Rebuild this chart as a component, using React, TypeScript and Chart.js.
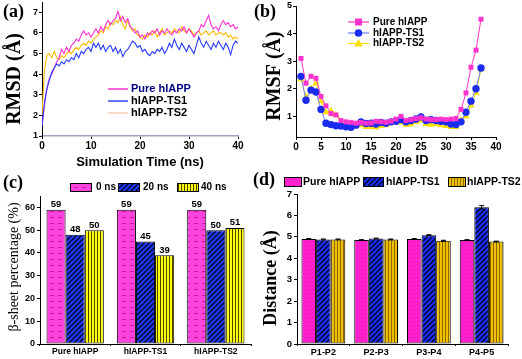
import React, { useEffect, useRef } from 'react';
import { Chart, registerables } from 'chart.js';

Chart.register(...registerables);

const SANS = '"Liberation Sans", Arial, sans-serif';
const SERIF = '"Liberation Serif", "Times New Roman", serif';

// ---------- (a) RMSD vs time ----------
const timeNs = [
  0, 0.5, 1, 1.5, 2, 2.5, 3, 3.5, 4, 4.5, 5, 5.5, 6, 6.5, 7, 7.5, 8, 8.5, 9, 9.5,
  10, 10.5, 11, 11.5, 12, 12.5, 13, 13.5, 14, 14.5, 15, 15.5, 16, 16.5, 17, 17.5, 18, 18.5, 19, 19.5,
  20, 20.5, 21, 21.5, 22, 22.5, 23, 23.5, 24, 24.5, 25, 25.5, 26, 26.5, 27, 27.5, 28, 28.5, 29, 29.5,
  30, 30.5, 31, 31.5, 32, 32.5, 33, 33.5, 34, 34.5, 35, 35.5, 36, 36.5, 37, 37.5, 38, 38.5, 39, 39.5, 40,
];
const rmsdPure = [
  1.5, 2.5, 3.3, 3.8, 4.0, 4.3, 4.6, 4.8, 5.2, 5.0,
  5.3, 5.1, 5.4, 5.5, 5.7, 5.6, 5.9, 6.1, 5.9, 6.0,
  5.8, 6.0, 6.2, 6.0, 6.3, 6.1, 6.4, 6.6, 6.4, 6.6,
  6.7, 7.05, 6.6, 6.8, 6.5, 6.7, 6.3, 6.2, 6.0, 6.1,
  5.8, 5.9, 5.7, 6.0, 5.9, 6.1, 6.0, 6.2, 5.9, 6.1,
  6.0, 6.2, 6.0, 5.9, 6.1, 6.0, 6.2, 6.1, 6.3, 6.0,
  6.2, 6.0, 5.8, 6.0, 6.1, 6.4, 6.3, 6.6, 6.85, 6.4,
  6.2, 6.3, 6.1, 6.4, 6.6, 6.4, 6.5, 6.3, 6.4, 6.2, 6.3,
];
const rmsdTS1 = [
  1.5, 2.6, 3.3, 3.7, 4.1, 4.3, 4.5, 4.4, 4.6, 4.5,
  4.7, 4.6, 4.8, 4.7, 5.0, 4.8, 5.1, 5.0, 5.2, 5.3,
  5.1, 5.5, 5.3, 5.5, 5.2, 5.4, 5.1, 5.3, 5.4, 5.1,
  5.3, 5.0, 5.2, 4.85, 5.1, 5.2, 5.4, 5.6, 5.5, 5.3,
  5.4, 5.1, 5.2, 5.0, 4.9, 5.1, 5.0, 5.2, 5.1, 5.3,
  5.0, 5.2, 5.5, 5.3, 5.7, 5.4, 5.2, 5.5, 5.3, 5.1,
  5.4, 5.2, 5.0, 5.4, 5.8, 5.5, 5.3, 5.6, 5.4, 5.2,
  5.5, 5.3, 5.6, 5.4, 5.2, 5.5, 5.3, 4.95, 5.4, 5.6, 5.5,
];
const rmsdTS2 = [
  2.0, 4.2, 4.9, 5.0, 4.8, 5.1, 4.8, 4.7, 4.9, 4.8,
  5.0, 5.1, 5.0, 5.2, 5.3, 5.2, 5.4, 5.5, 5.4, 5.6,
  5.5, 5.7, 5.8, 5.9, 6.1, 6.0, 6.3, 6.2, 6.5, 6.4,
  6.6, 6.5, 6.8, 6.4, 6.2, 6.6, 6.3, 6.1, 6.2, 5.9,
  5.8, 5.7, 5.9, 5.8, 6.0, 5.9, 6.1, 5.8, 6.0, 6.2,
  5.9, 6.0, 6.1, 6.0, 6.2, 6.1, 6.0, 6.3, 6.1, 6.0,
  6.2, 6.1, 5.9, 6.0, 6.1, 5.9, 6.0, 6.1, 5.9, 6.0,
  6.1, 5.9, 6.0, 6.0, 5.9, 6.0, 5.8, 5.9, 5.7, 5.8, 5.7,
];

// ---------- (b) RMSF vs residue ----------
const residues = [
  1, 2, 3, 4, 5, 6, 7, 8, 9, 10, 11, 12, 13, 14, 15, 16, 17, 18, 19,
  20, 21, 22, 23, 24, 25, 26, 27, 28, 29, 30, 31, 32, 33, 34, 35, 36, 37,
];
const rmsfPure = [
  3.1, 2.2, 2.45, 2.38, 1.72, 1.38, 1.1, 1.05, 0.85, 0.8, 0.78, 0.75, 0.78, 0.75, 0.76, 0.82, 0.8, 0.78, 0.82,
  0.9, 1.0, 0.85, 0.88, 0.92, 0.95, 0.9, 0.88, 0.88, 0.9, 0.88, 0.9, 0.92, 1.25, 1.85, 2.78, 3.4, 4.52,
];
const rmsfTS1 = [
  2.45, 1.58, 1.95, 1.88, 1.25, 0.75, 0.7, 0.66, 0.65, 0.62, 0.6, 0.68, 0.8, 0.74, 0.75, 0.72, 0.78, 0.75, 0.8,
  0.82, 0.88, 0.8, 0.85, 0.9, 0.98, 0.85, 0.88, 0.85, 0.82, 0.8, 0.72, 0.7, 0.8, 1.15, 1.55, 2.0, 2.75,
];
const rmsfTS2 = [
  2.35, 1.7, 2.0, 2.2, 1.55, 1.15, 1.2, 1.05, 0.75, 0.72, 0.68, 0.7, 0.68, 0.62, 0.62, 0.6, 0.65, 0.68, 0.78,
  0.8, 0.78, 0.7, 0.72, 0.8, 0.85, 0.72, 0.7, 0.72, 0.68, 0.65, 0.62, 0.62, 0.85, 1.0, 1.4, 1.85, 2.7,
];

// ---------- (c) beta-sheet percentage ----------
const systems = ['Pure hIAPP', 'hIAPP-TS1', 'hIAPP-TS2'];
const timeLabels = ['0 ns', '20 ns', '40 ns'];
const beta0 = [59, 59, 59];
const beta20 = [48, 45, 50];
const beta40 = [50, 39, 51];

// ---------- (d) inter-peptide distance ----------
const pairs = ['P1-P2', 'P2-P3', 'P3-P4', 'P4-P5'];
const seriesNames = ['Pure hIAPP', 'hIAPP-TS1', 'hIAPP-TS2'];
const distPure = [4.9, 4.85, 4.9, 4.85];
const distTS1 = [4.88, 4.92, 5.08, 6.38];
const distTS2 = [4.88, 4.88, 4.82, 4.78];
const errPure = [0.02, 0.02, 0.02, 0.02];
const errTS1 = [0.02, 0.02, 0.02, 0.08];
const errTS2 = [0.02, 0.02, 0.02, 0.02];

// ---------- helpers ----------
function fixY(w: number) {
  return (s: any) => {
    s.width = w;
    s.paddingTop = 0; s.paddingBottom = 0; s.paddingLeft = 0; s.paddingRight = 0;
  };
}
function fixX(h: number) {
  return (s: any) => {
    s.height = h;
    s.paddingTop = 0; s.paddingBottom = 0; s.paddingLeft = 0; s.paddingRight = 0;
  };
}

function txt(ctx: CanvasRenderingContext2D, str: string, x: number, y: number, font: string,
  color = '#000', align: CanvasTextAlign = 'left', baseline: CanvasTextBaseline = 'alphabetic', rot = 0) {
  ctx.save();
  ctx.translate(x, y);
  if (rot) ctx.rotate(rot);
  ctx.font = font;
  ctx.fillStyle = color;
  ctx.textAlign = align;
  ctx.textBaseline = baseline;
  ctx.fillText(str, 0, 0);
  ctx.restore();
}

function makePattern(kind: string, base: string, ink: string): any {
  const c = document.createElement('canvas');
  const ctx = c.getContext('2d')!;
  if (kind === 'dash') {
    c.width = 8; c.height = 6;
    ctx.fillStyle = base; ctx.fillRect(0, 0, 8, 6);
    ctx.fillStyle = ink; ctx.fillRect(2, 3, 4, 1);
  } else if (kind === 'dots') {
    c.width = 4; c.height = 4;
    ctx.fillStyle = base; ctx.fillRect(0, 0, 4, 4);
    ctx.fillStyle = ink; ctx.fillRect(1, 1, 1, 1);
  } else if (kind === 'diag') {
    c.width = 5; c.height = 5;
    ctx.fillStyle = base; ctx.fillRect(0, 0, 5, 5);
    ctx.strokeStyle = ink; ctx.lineWidth = 1.3;
    ctx.beginPath();
    ctx.moveTo(-1, 6); ctx.lineTo(6, -1);
    ctx.moveTo(-1, 1); ctx.lineTo(1, -1);
    ctx.moveTo(4, 6); ctx.lineTo(6, 4);
    ctx.stroke();
  } else {
    c.width = 3; c.height = 3;
    ctx.fillStyle = base; ctx.fillRect(0, 0, 3, 3);
    ctx.fillStyle = ink; ctx.fillRect(1, 0, 1, 3);
  }
  return ctx.createPattern(c, 'repeat');
}

function axis(fontSize: number, extra: any = {}) {
  return {
    grid: { drawOnChartArea: false, drawTicks: true, tickLength: 3, color: '#000', lineWidth: 1 },
    border: { display: true, color: '#000', width: 1 },
    ticks: { color: '#000', font: { family: SANS, weight: 'bold', size: fontSize }, padding: 1 },
    ...extra,
  };
}

const baseOpts = (padding: any) => ({
  responsive: false,
  animation: false,
  devicePixelRatio: 1,
  layout: { padding },
  plugins: { legend: { display: false }, tooltip: { enabled: false } },
});

function ChartPanel({ left, top, width, height, make }: any) {
  const ref = useRef<HTMLCanvasElement>(null);
  useEffect(() => {
    const chart = new Chart(ref.current!, make());
    return () => chart.destroy();
  }, []);
  return (
    <canvas ref={ref} width={width} height={height}
      style={{ position: 'absolute', left, top, width, height }} />
  );
}

// ---------- panel configs ----------
function makeA() {
  const pts = (ys: number[]) => timeNs.map((t, i) => ({ x: t, y: ys[i] }));
  const decor = {
    id: 'decorA',
    afterDraw(chart: any) {
      const ctx = chart.ctx;
      txt(ctx, '(a)', 3, 17, `bold 18px ${SERIF}`);
      txt(ctx, 'RMSD (Å)', 15, 79, `bold 20px ${SERIF}`, '#000', 'center', 'middle', -Math.PI / 2);
      txt(ctx, 'Simulation Time (ns)', 140, 162, `bold 13px ${SANS}`, '#000', 'center', 'middle');
      const rows = [
        { c: '#ff33cc', t: 'Pure hIAPP', tc: '#000080', y: 89 },
        { c: '#3344ff', t: 'hIAPP-TS1', tc: '#000', y: 101 },
        { c: '#f6cdb8', t: 'hIAPP-TS2', tc: '#000', y: 113 },
      ];
      rows.forEach((r) => {
        ctx.save();
        ctx.strokeStyle = r.c; ctx.lineWidth = 1.5;
        ctx.beginPath(); ctx.moveTo(108, r.y); ctx.lineTo(128, r.y); ctx.stroke();
        ctx.restore();
        txt(ctx, r.t, 131, r.y, `bold 11px ${SANS}`, r.tc, 'left', 'middle');
      });
    },
  };
  return {
    type: 'line',
    data: {
      datasets: [
        { data: pts(rmsdTS1), borderColor: '#2a3cff', borderWidth: 1.1, pointRadius: 0 },
        { data: pts(rmsdPure), borderColor: '#ff2fd0', borderWidth: 1.1, pointRadius: 0 },
        { data: pts(rmsdTS2), borderColor: '#ffbb00', borderWidth: 1.1, pointRadius: 0 },
      ],
    },
    options: {
      ...baseOpts({ left: 0, top: 2, right: 18, bottom: 0 }),
      scales: {
        x: {
          type: 'linear', min: 0, max: 40,
          ...axis(10, { afterFit: fixX(36) }),
          border: { display: true, color: '#9ea3c6', width: 1.5 },
          ticks: { color: '#000', font: { family: SANS, weight: 'bold', size: 10 }, padding: 1, stepSize: 10 },
        },
        y: {
          min: 1, max: 7.5,
          ...axis(10, { afterFit: fixY(42) }),
          ticks: { color: '#000', font: { family: SANS, weight: 'bold', size: 9 }, padding: 1, stepSize: 1, includeBounds: false },
        },
      },
    },
    plugins: [decor],
  };
}

function makeB() {
  const pts = (ys: number[]) => residues.map((r, i) => ({ x: r, y: ys[i] }));
  const decor = {
    id: 'decorB',
    afterDraw(chart: any) {
      const ctx = chart.ctx;
      txt(ctx, '(b)', 2, 17, `bold 18px ${SERIF}`);
      txt(ctx, 'RMSF (Å)', 23, 76, `bold 20px ${SERIF}`, '#000', 'center', 'middle', -Math.PI / 2);
      txt(ctx, 'Residue ID', 143, 160, `bold 13px ${SANS}`, '#000', 'center', 'middle');
      const rows = [
        { c: '#ff33cc', f: '#ff33cc', m: 'rect', t: 'Pure hIAPP', y: 22 },
        { c: '#6a7cff', f: '#1a2cf0', m: 'circle', t: 'hIAPP-TS1', y: 33 },
        { c: '#ffe000', f: '#ffe000', m: 'tri', t: 'hIAPP-TS2', y: 43.5 },
      ];
      rows.forEach((r) => {
        ctx.save();
        ctx.strokeStyle = r.c; ctx.lineWidth = 1.2;
        ctx.beginPath(); ctx.moveTo(96, r.y); ctx.lineTo(117, r.y); ctx.stroke();
        ctx.fillStyle = r.f;
        const cx = 106.5;
        ctx.beginPath();
        if (r.m === 'rect') ctx.rect(cx - 3.5, r.y - 3.5, 7, 7);
        else if (r.m === 'circle') ctx.arc(cx, r.y, 3.8, 0, Math.PI * 2);
        else { ctx.moveTo(cx, r.y - 4.5); ctx.lineTo(cx + 4.5, r.y + 3); ctx.lineTo(cx - 4.5, r.y + 3); ctx.closePath(); }
        ctx.fill();
        ctx.restore();
        txt(ctx, r.t, 121, r.y, `bold 10px ${SANS}`, '#000', 'left', 'middle');
      });
    },
  };
  return {
    type: 'line',
    data: {
      datasets: [
        { data: pts(rmsfPure), borderColor: '#ff33cc', backgroundColor: '#ff33cc', borderWidth: 1, pointStyle: 'rect', pointRadius: 3.5, pointBorderWidth: 0 },
        { data: pts(rmsfTS1), borderColor: '#6a7cff', backgroundColor: '#1a2cf0', borderWidth: 1, pointStyle: 'circle', pointRadius: 3.7, pointBorderWidth: 0 },
        { data: pts(rmsfTS2), borderColor: '#ffe000', backgroundColor: '#ffe000', borderWidth: 1, pointStyle: 'triangle', pointRadius: 4.2, pointBorderWidth: 0 },
      ],
    },
    options: {
      ...baseOpts({ left: 0, top: 6, right: 26, bottom: 0 }),
      scales: {
        x: {
          type: 'linear', min: 0, max: 40,
          ...axis(10, { afterFit: fixX(35) }),
          ticks: { color: '#000', font: { family: SANS, weight: 'bold', size: 10 }, padding: 1, stepSize: 5 },
        },
        y: {
          min: 0.25, max: 5,
          ...axis(10, { afterFit: fixY(44) }),
          ticks: { color: '#000', font: { family: SANS, weight: 'bold', size: 9 }, padding: 1, stepSize: 1, includeBounds: false },
        },
      },
    },
    plugins: [decor],
  };
}

function makeC() {
  const pPink = makePattern('dash', '#ff44dd', '#c8189e');
  const pBlue = makePattern('diag', '#1f3cff', '#000022');
  const pYel = makePattern('vert', '#ffff10', '#4a4a00');
  const fills = [pPink, pBlue, pYel];
  const decor = {
    id: 'decorC',
    afterDatasetsDraw(chart: any) {
      const ctx = chart.ctx;
      chart.data.datasets.forEach((ds: any, di: number) => {
        chart.getDatasetMeta(di).data.forEach((bar: any, i: number) => {
          txt(ctx, String(ds.data[i]), bar.x, bar.y - 0.5, `bold 9.5px ${SANS}`, '#000', 'center', 'bottom');
        });
      });
    },
    afterDraw(chart: any) {
      const ctx = chart.ctx;
      txt(ctx, '(c)', 3, 15.5, `bold 18px ${SERIF}`);
      txt(ctx, 'β-sheet percentage (%)', 14.5, 95, `14px ${SERIF}`, '#000', 'center', 'middle', -Math.PI / 2);
      const boxes = [70, 118, 177];
      const tx = [96, 143, 201];
      timeLabels.forEach((t, i) => {
        ctx.save();
        ctx.fillStyle = fills[i];
        ctx.fillRect(boxes[i], 11, 21, 8);
        ctx.strokeStyle = '#000'; ctx.lineWidth = 1;
        ctx.strokeRect(boxes[i] + 0.5, 11.5, 21, 8);
        ctx.restore();
        txt(ctx, t, tx[i], 15.5, `bold 10px ${SANS}`, '#000', 'left', 'middle');
      });
    },
  };
  const series = [beta0, beta20, beta40];
  return {
    type: 'bar',
    data: {
      labels: systems,
      datasets: series.map((d, i) => ({
        label: timeLabels[i], data: d, backgroundColor: fills[i],
        borderColor: '#000', borderWidth: 1, borderSkipped: false,
        categoryPercentage: 0.815, barPercentage: 1,
      })),
    },
    options: {
      ...baseOpts({ left: 0, top: 24, right: 1, bottom: 0 }),
      scales: {
        x: {
          ...axis(8.5, { afterFit: fixX(15) }),
          grid: { drawOnChartArea: false, drawTicks: true, tickLength: 2, color: '#000', lineWidth: 1 },
          ticks: { color: '#000', font: { family: SANS, weight: 'bold', size: 8.5 }, padding: 1 },
        },
        y: {
          min: 0, max: 65,
          ...axis(9, { afterFit: fixY(40) }),
          ticks: { color: '#000', font: { family: SANS, weight: 'bold', size: 9 }, padding: 2, stepSize: 10, includeBounds: false },
        },
      },
    },
    plugins: [decor],
  };
}

function makeD() {
  const pPink = makePattern('dots', '#ff22cc', '#e010b0');
  const pBlue = makePattern('diag', '#1a30ff', '#000022');
  const pGold = makePattern('vert', '#f0c000', '#8a6a00');
  const fills = [pPink, pBlue, pGold];
  const errs = [errPure, errTS1, errTS2];
  const decor = {
    id: 'decorD',
    afterDatasetsDraw(chart: any) {
      const ctx = chart.ctx;
      const ys = chart.scales.y;
      chart.data.datasets.forEach((ds: any, di: number) => {
        chart.getDatasetMeta(di).data.forEach((bar: any, i: number) => {
          const v = ds.data[i];
          const e = errs[di][i];
          const y1 = ys.getPixelForValue(v + e);
          const y2 = ys.getPixelForValue(v - e);
          ctx.save();
          ctx.strokeStyle = '#000'; ctx.lineWidth = 1;
          ctx.beginPath();
          ctx.moveTo(bar.x, y1); ctx.lineTo(bar.x, y2);
          ctx.moveTo(bar.x - 2.5, y1); ctx.lineTo(bar.x + 2.5, y1);
          ctx.moveTo(bar.x - 2.5, y2); ctx.lineTo(bar.x + 2.5, y2);
          ctx.stroke();
          ctx.restore();
        });
      });
    },
    afterDraw(chart: any) {
      const ctx = chart.ctx;
      txt(ctx, '(d)', 1, 13, `bold 18px ${SERIF}`);
      txt(ctx, 'Distance (Å)', 19.5, 106, `bold 18px ${SERIF}`, '#000', 'center', 'middle', -Math.PI / 2);
      const boxes = [32, 111, 196];
      const widths = [17, 20, 17];
      const tx = [51, 134, 215];
      seriesNames.forEach((t, i) => {
        ctx.save();
        ctx.fillStyle = fills[i];
        ctx.fillRect(boxes[i], 5, widths[i], 9);
        ctx.strokeStyle = '#000'; ctx.lineWidth = 1;
        ctx.strokeRect(boxes[i] + 0.5, 5.5, widths[i], 9);
        ctx.restore();
        txt(ctx, t, tx[i], 10, `bold 10.5px ${SANS}`, '#000', 'left', 'middle');
      });
    },
  };
  const series = [distPure, distTS1, distTS2];
  return {
    type: 'bar',
    data: {
      labels: pairs,
      datasets: series.map((d, i) => ({
        label: seriesNames[i], data: d, backgroundColor: fills[i],
        borderColor: '#000', borderWidth: 1, borderSkipped: false,
        categoryPercentage: 0.83, barPercentage: 1,
      })),
    },
    options: {
      ...baseOpts({ left: 0, top: 22, right: 14, bottom: 0 }),
      scales: {
        x: {
          ...axis(9, { afterFit: fixX(15) }),
          grid: { drawOnChartArea: false, drawTicks: true, tickLength: 2, color: '#000', lineWidth: 1 },
          ticks: { color: '#000', font: { family: SANS, weight: 'bold', size: 9 }, padding: 1 },
        },
        y: {
          min: 0, max: 7,
          ...axis(9, { afterFit: fixY(45) }),
          ticks: { color: '#000', font: { family: SANS, weight: 'bold', size: 9.5 }, padding: 2, stepSize: 1 },
        },
      },
    },
    plugins: [decor],
  };
}

export default function App() {
  return (
    <div style={{ position: 'fixed', left: 0, top: 0, width: 522, height: 359, background: '#fff', overflow: 'hidden' }}>
      <ChartPanel left={0} top={0} width={256} height={172} make={makeA} />
      <ChartPanel left={252} top={0} width={270} height={172} make={makeB} />
      <ChartPanel left={0} top={172} width={252} height={187} make={makeC} />
      <ChartPanel left={252} top={172} width={270} height={187} make={makeD} />
    </div>
  );
}
